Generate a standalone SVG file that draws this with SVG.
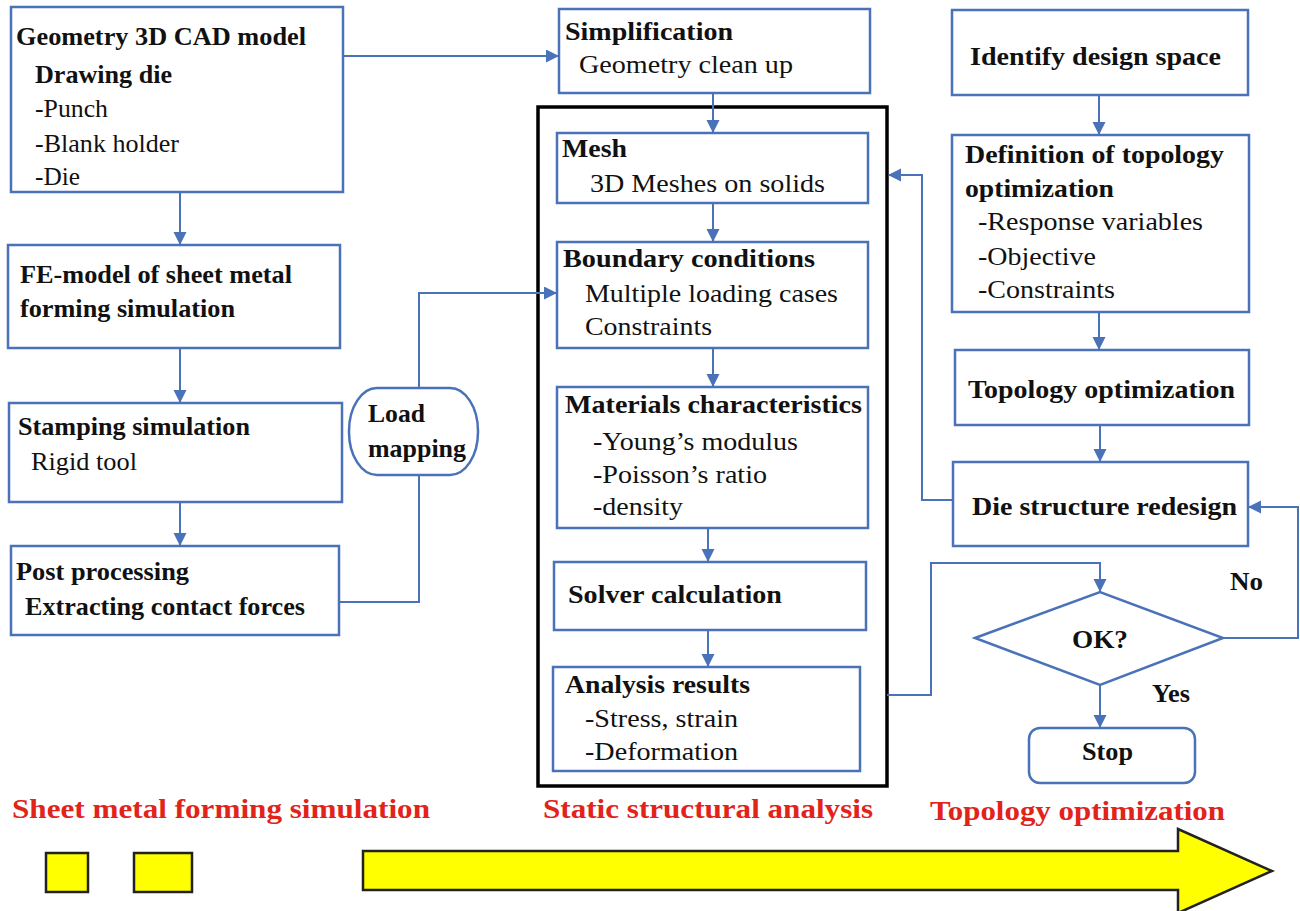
<svg xmlns="http://www.w3.org/2000/svg" width="1300" height="911" viewBox="0 0 1300 911">
<style>
.box{fill:#fff;stroke:#4a72b8;stroke-width:2.5}
.c{fill:none;stroke:#4a72b8;stroke-width:2}
.h{font-family:"Liberation Serif","Times New Roman","DejaVu Serif",serif;font-weight:bold;font-size:25px;fill:#111}
.t{font-family:"Liberation Serif","Times New Roman","DejaVu Serif",serif;font-weight:normal;font-size:25px;fill:#111}
.r{font-family:"Liberation Serif","Times New Roman","DejaVu Serif",serif;font-weight:bold;font-size:27px;fill:#e2231a}
</style>
<defs>
<marker id="ah" markerUnits="userSpaceOnUse" markerWidth="14" markerHeight="14" refX="12" refY="6.5" orient="auto">
<path d="M0,0 L13,6.5 L0,13 z" fill="#4a72b8"/>
</marker>
</defs>
<rect width="1300" height="911" fill="#fff"/>

<g id="frame"><rect x="538" y="107" width="349" height="679" fill="none" stroke="#000" stroke-width="3.5"/></g>

<g id="geometry">
<rect class="box" x="11" y="7" width="332" height="185"/>
<text class="h" x="16" y="45" textLength="290" lengthAdjust="spacingAndGlyphs">Geometry 3D CAD model</text>
<text class="h" x="35" y="83" textLength="137" lengthAdjust="spacingAndGlyphs">Drawing die</text>
<text class="t" x="35" y="117" textLength="73" lengthAdjust="spacingAndGlyphs">-Punch</text>
<text class="t" x="35" y="152" textLength="144" lengthAdjust="spacingAndGlyphs">-Blank holder</text>
<text class="t" x="35" y="185" textLength="45" lengthAdjust="spacingAndGlyphs">-Die</text>
</g>
<g id="fe">
<rect class="box" x="8" y="245" width="332" height="103"/>
<text class="h" x="20" y="283" textLength="272" lengthAdjust="spacingAndGlyphs">FE-model of sheet metal</text>
<text class="h" x="20" y="317" textLength="215" lengthAdjust="spacingAndGlyphs">forming simulation</text>
</g>
<g id="stamping">
<rect class="box" x="9" y="403" width="333" height="99"/>
<text class="h" x="18" y="435" textLength="232" lengthAdjust="spacingAndGlyphs">Stamping simulation</text>
<text class="t" x="31" y="470" textLength="106" lengthAdjust="spacingAndGlyphs">Rigid tool</text>
</g>
<g id="post">
<rect class="box" x="11" y="546" width="328" height="89"/>
<text class="h" x="16" y="580" textLength="173" lengthAdjust="spacingAndGlyphs">Post processing</text>
<text class="h" x="25" y="615" textLength="280" lengthAdjust="spacingAndGlyphs">Extracting contact forces</text>
</g>
<g id="loadmapping">
<rect class="box" x="349" y="388" width="129" height="87" rx="28" ry="43"/>
<text class="h" x="368" y="422" textLength="57" lengthAdjust="spacingAndGlyphs">Load</text>
<text class="h" x="368" y="457" textLength="98" lengthAdjust="spacingAndGlyphs">mapping</text>
</g>

<g id="simplification">
<rect class="box" x="559" y="9" width="311" height="84"/>
<text class="h" x="565" y="40" textLength="168" lengthAdjust="spacingAndGlyphs">Simplification</text>
<text class="t" x="579" y="73" textLength="214" lengthAdjust="spacingAndGlyphs">Geometry clean up</text>
</g>
<g id="mesh">
<rect class="box" x="557" y="133" width="311" height="70"/>
<text class="h" x="562" y="157" textLength="65" lengthAdjust="spacingAndGlyphs">Mesh</text>
<text class="t" x="590" y="192" textLength="235" lengthAdjust="spacingAndGlyphs">3D Meshes on solids</text>
</g>
<g id="boundary">
<rect class="box" x="557" y="242" width="311" height="106"/>
<text class="h" x="563" y="267" textLength="252" lengthAdjust="spacingAndGlyphs">Boundary conditions</text>
<text class="t" x="585" y="302" textLength="253" lengthAdjust="spacingAndGlyphs">Multiple loading cases</text>
<text class="t" x="585" y="335" textLength="127" lengthAdjust="spacingAndGlyphs">Constraints</text>
</g>
<g id="materials">
<rect class="box" x="557" y="387" width="311" height="141"/>
<text class="h" x="565" y="413" textLength="297" lengthAdjust="spacingAndGlyphs">Materials characteristics</text>
<text class="t" x="593" y="450" textLength="205" lengthAdjust="spacingAndGlyphs">-Young’s modulus</text>
<text class="t" x="593" y="483" textLength="174" lengthAdjust="spacingAndGlyphs">-Poisson’s ratio</text>
<text class="t" x="593" y="515" textLength="90" lengthAdjust="spacingAndGlyphs">-density</text>
</g>
<g id="solver">
<rect class="box" x="554" y="562" width="312" height="68"/>
<text class="h" x="568" y="603" textLength="214" lengthAdjust="spacingAndGlyphs">Solver calculation</text>
</g>
<g id="analysis">
<rect class="box" x="553" y="667" width="307" height="104"/>
<text class="h" x="565" y="693" textLength="185" lengthAdjust="spacingAndGlyphs">Analysis results</text>
<text class="t" x="585" y="727" textLength="153" lengthAdjust="spacingAndGlyphs">-Stress, strain</text>
<text class="t" x="585" y="760" textLength="153" lengthAdjust="spacingAndGlyphs">-Deformation</text>
</g>

<g id="identify">
<rect class="box" x="952" y="10" width="296" height="85"/>
<text class="h" x="970" y="65" textLength="251" lengthAdjust="spacingAndGlyphs">Identify design space</text>
</g>
<g id="definition">
<rect class="box" x="952" y="135" width="297" height="177"/>
<text class="h" x="965" y="163" textLength="259" lengthAdjust="spacingAndGlyphs">Definition of topology</text>
<text class="h" x="965" y="197" textLength="149" lengthAdjust="spacingAndGlyphs">optimization</text>
<text class="t" x="978" y="230" textLength="225" lengthAdjust="spacingAndGlyphs">-Response variables</text>
<text class="t" x="978" y="265" textLength="118" lengthAdjust="spacingAndGlyphs">-Objective</text>
<text class="t" x="978" y="298" textLength="137" lengthAdjust="spacingAndGlyphs">-Constraints</text>
</g>
<g id="topology">
<rect class="box" x="955" y="350" width="294" height="75"/>
<text class="h" x="968" y="398" textLength="267" lengthAdjust="spacingAndGlyphs">Topology optimization</text>
</g>
<g id="redesign">
<rect class="box" x="953" y="462" width="295" height="84"/>
<text class="h" x="972" y="515" textLength="265" lengthAdjust="spacingAndGlyphs">Die structure redesign</text>
</g>
<g id="ok">
<polygon class="box" points="975,638 1100,592 1223,638 1100,685"/>
<text class="h" x="1072" y="648" textLength="56" lengthAdjust="spacingAndGlyphs">OK?</text>
</g>
<g id="stop">
<rect class="box" x="1029" y="728" width="166" height="55" rx="11"/>
<text class="h" x="1082" y="760" textLength="51" lengthAdjust="spacingAndGlyphs">Stop</text>
</g>

<g id="connectors">
<line class="c" x1="343" y1="56" x2="558" y2="56" marker-end="url(#ah)"/>
<line class="c" x1="180" y1="192" x2="180" y2="244" marker-end="url(#ah)"/>
<line class="c" x1="180" y1="348" x2="180" y2="402" marker-end="url(#ah)"/>
<line class="c" x1="180" y1="502" x2="180" y2="545" marker-end="url(#ah)"/>
<polyline class="c" points="339,602 419,602 419,475"/>
<polyline class="c" points="419,388 419,293 556,293" marker-end="url(#ah)"/>
<line class="c" x1="713" y1="93" x2="713" y2="132" marker-end="url(#ah)"/>
<line class="c" x1="713" y1="203" x2="713" y2="241" marker-end="url(#ah)"/>
<line class="c" x1="713" y1="348" x2="713" y2="386" marker-end="url(#ah)"/>
<line class="c" x1="708" y1="528" x2="708" y2="561" marker-end="url(#ah)"/>
<line class="c" x1="708" y1="630" x2="708" y2="666" marker-end="url(#ah)"/>
<polyline class="c" points="887,695 931,695 931,563 1100,563 1100,591" marker-end="url(#ah)"/>
<line class="c" x1="1099" y1="95" x2="1099" y2="134" marker-end="url(#ah)"/>
<line class="c" x1="1099" y1="312" x2="1099" y2="349" marker-end="url(#ah)"/>
<line class="c" x1="1100" y1="425" x2="1100" y2="461" marker-end="url(#ah)"/>
<polyline class="c" points="953,500 922,500 922,175 889,175" marker-end="url(#ah)"/>
<polyline class="c" points="1223,638 1298,638 1298,507 1249,507" marker-end="url(#ah)"/>
<line class="c" x1="1100" y1="685" x2="1100" y2="727" marker-end="url(#ah)"/>
<text class="h" x="1230" y="590" textLength="33" lengthAdjust="spacingAndGlyphs">No</text>
<text class="h" x="1152" y="702" textLength="38" lengthAdjust="spacingAndGlyphs">Yes</text>
</g>

<g id="legend">
<text class="r" x="12" y="818" textLength="418" lengthAdjust="spacingAndGlyphs">Sheet metal forming simulation</text>
<text class="r" x="543" y="818" textLength="330" lengthAdjust="spacingAndGlyphs">Static structural analysis</text>
<text class="r" x="930" y="820" textLength="295" lengthAdjust="spacingAndGlyphs">Topology optimization</text>
<rect x="46" y="853" width="42" height="39" fill="#ffff00" stroke="#222" stroke-width="2.5"/>
<rect x="134" y="853" width="58" height="39" fill="#ffff00" stroke="#222" stroke-width="2.5"/>
<polygon points="363,851 1178,851 1178,829 1272,871 1178,913 1178,890 363,890" fill="#ffff00" stroke="#222" stroke-width="2.5"/>
</g>
</svg>
